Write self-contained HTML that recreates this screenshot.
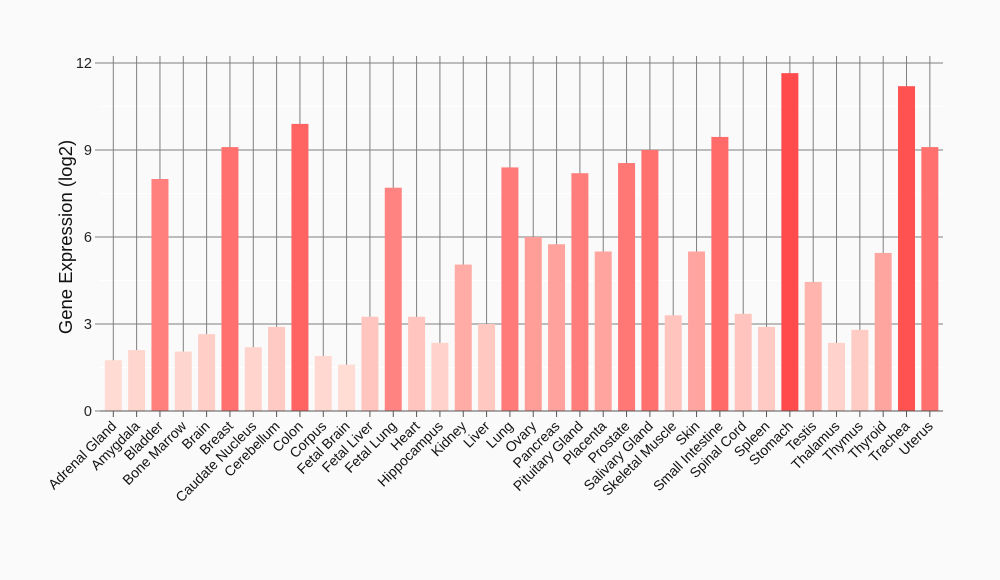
<!DOCTYPE html>
<html><head><meta charset="utf-8"><style>
html,body{margin:0;padding:0;background:#fafafa;}
svg{display:block;font-family:"Liberation Sans",Arial,sans-serif;}
</style></head><body>
<svg id="c" width="1000" height="580" xmlns="http://www.w3.org/2000/svg"></svg>
<script>
const names=["Adrenal Gland","Amygdala","Bladder","Bone Marrow","Brain","Breast","Caudate Nucleus","Cerebellum","Colon","Corpus","Fetal Brain","Fetal Liver","Fetal Lung","Heart","Hippocampus","Kidney","Liver","Lung","Ovary","Pancreas","Pituitary Gland","Placenta","Prostate","Salivary Gland","Skeletal Muscle","Skin","Small Intestine","Spinal Cord","Spleen","Stomach","Testis","Thalamus","Thymus","Thyroid","Trachea","Uterus"];
const vals=[1.75,2.1,8.0,2.05,2.65,9.1,2.2,2.9,9.9,1.9,1.6,3.25,7.7,3.25,2.35,5.05,3.0,8.4,6.0,5.75,8.2,5.5,8.55,9.0,3.3,5.5,9.45,3.35,2.9,11.65,4.45,2.35,2.8,5.45,11.2,9.1];
const X0=100,X1=943,Y0=411,K=29;
const cx=i=>113.3+23.33*i;
let s='';
for(let v=1.5;v<12.5;v+=3)s+=`<line x1="${X0}" x2="${X1}" y1="${Y0-K*v}" y2="${Y0-K*v}" stroke="#ffffff" stroke-width="1"/>`;
for(let v=0;v<=12;v+=3){const y=Y0-K*v;s+=`<line x1="${X0}" x2="${X1}" y1="${y}" y2="${y}" stroke="#7f7f7f" stroke-width="1"/><line x1="95" x2="${X0}" y1="${y}" y2="${y}" stroke="#7f7f7f"/><text x="92" y="${y+5}" font-size="14.5" text-anchor="end" fill="#222">${v}</text>`;}
names.forEach((n,i)=>{const x=cx(i);s+=`<line x1="${x}" x2="${x}" y1="56" y2="${Y0}" stroke="#7f7f7f"/>`;});
names.forEach((n,i)=>{const x=cx(i),v=vals[i],t=Math.min(1,Math.max(0,(v-1.6)/(11.65-1.6)));
const g=Math.round(221-(221-75)*t),b=Math.round(213-(213-75)*t);
s+=`<rect x="${x-8.5}" y="${Y0-K*v}" width="17" height="${K*v}" fill="rgb(255,${g},${b})"/>`;
s+=`<line x1="${x}" x2="${x}" y1="${Y0}" y2="${Y0+6}" stroke="#555"/>`;
s+=`<text transform="translate(${x+4},${Y0+16}) rotate(-45)" font-size="14" text-anchor="end" fill="#111">${n}</text>`;});
s+=`<line x1="${X0}" x2="${X1}" y1="${Y0}" y2="${Y0}" stroke="#555"/>`;
s+=`<text transform="translate(72,237) rotate(-90)" font-size="18.5" text-anchor="middle" fill="#111">Gene Expression (log2)</text>`;
document.getElementById('c').innerHTML=s;
</script>
</body></html>
